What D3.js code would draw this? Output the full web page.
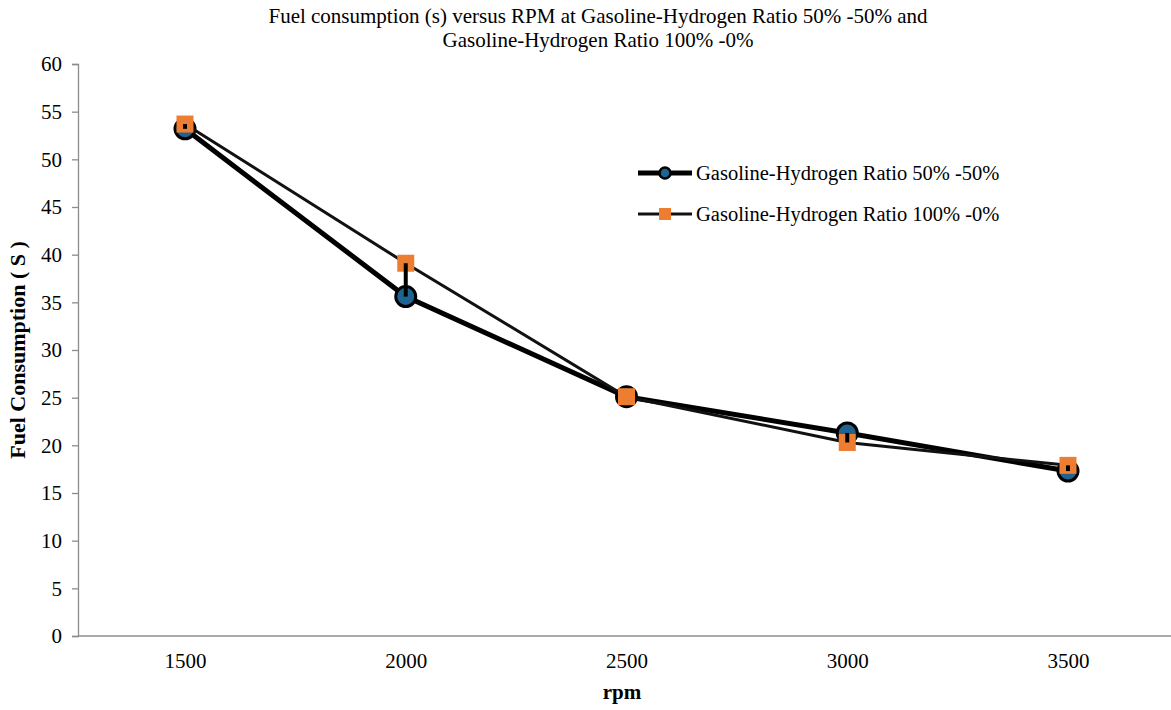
<!DOCTYPE html>
<html>
<head>
<meta charset="utf-8">
<script src="https://cdn.jsdelivr.net/npm/d3@7"></script>
<style>
  body { margin: 0; background: #fff; }
  svg text { font-family: "Liberation Serif", "DejaVu Serif", serif !important; fill: #000; }
</style>
</head>
<body>
<div id="chart"></div>
<script>
// chart data
const rpm = ["1500", "2000", "2500", "3000", "3500"];
const ratio5050 = [53.2, 35.6, 25.1, 21.3, 17.3];
const ratio1000 = [53.7, 39.1, 25.1, 20.3, 17.9];
const yTicks = [0, 5, 10, 15, 20, 25, 30, 35, 40, 45, 50, 55, 60];
const seriesNames = ["Gasoline-Hydrogen Ratio 50% -50%", "Gasoline-Hydrogen Ratio 100% -0%"];

const width = 1171, height = 710;
const margin = { top: 64, right: -8, bottom: 74, left: 78 };

const svg = d3.select("#chart")
    .append("svg")
    .attr("width", width)
    .attr("height", height);

const x = d3.scalePoint()
    .domain(rpm)
    .range([185, 1068]);

const y = d3.scaleLinear()
    .domain([0, 60])
    .range([height - margin.bottom, margin.top]);

// y axis
const yAxis = svg.append("g")
    .attr("transform", `translate(${margin.left},0)`)
    .call(d3.axisLeft(y).tickValues(yTicks).tickSize(6).tickPadding(10));
yAxis.select(".domain").attr("stroke", "#8c8c8c").attr("stroke-width", 1.3);
yAxis.selectAll(".tick line").attr("stroke", "#8c8c8c").attr("stroke-width", 1.3);
yAxis.selectAll(".tick text").style("font-size", "21px");

// x axis (no ticks)
const xAxis = svg.append("g")
    .attr("transform", `translate(0,${y(0)})`)
    .call(d3.axisBottom(x).tickSize(0).tickPadding(17));
xAxis.select(".domain")
    .attr("d", `M${margin.left},0H${width}`)
    .attr("stroke", "#8c8c8c").attr("stroke-width", 1.3);
xAxis.selectAll(".tick text").style("font-size", "21px");

// title
const title = svg.append("text")
    .attr("text-anchor", "middle")
    .attr("font-size", 21);
title.append("tspan").attr("x", 598).attr("y", 23)
    .text("Fuel consumption (s) versus RPM at Gasoline-Hydrogen Ratio 50% -50% and");
title.append("tspan").attr("x", 598).attr("y", 47)
    .text("Gasoline-Hydrogen Ratio 100% -0%");

// axis labels
svg.append("text")
    .attr("transform", `translate(25,${y(30)}) rotate(-90)`)
    .attr("text-anchor", "middle")
    .attr("font-size", 22)
    .attr("font-weight", "bold")
    .text("Fuel Consumption ( S )");

svg.append("text")
    .attr("x", 622)
    .attr("y", 699)
    .attr("text-anchor", "middle")
    .attr("font-size", 21)
    .attr("font-weight", "bold")
    .text("rpm");

const line = d3.line()
    .x((d, i) => x(rpm[i]))
    .y(d => y(d));

// series 1: thick line + blue circles
svg.append("path")
    .datum(ratio5050)
    .attr("d", line)
    .attr("fill", "none")
    .attr("stroke", "#000")
    .attr("stroke-width", 5);

svg.selectAll(".c1")
    .data(ratio5050)
    .join("circle")
    .attr("class", "c1")
    .attr("cx", (d, i) => x(rpm[i]))
    .attr("cy", d => y(d))
    .attr("r", 10)
    .attr("fill", "#1f6391")
    .attr("stroke", "#000")
    .attr("stroke-width", 3);

// series 2: thinner line + orange squares
svg.append("path")
    .datum(ratio1000)
    .attr("d", line)
    .attr("fill", "none")
    .attr("stroke", "#111")
    .attr("stroke-width", 3);

const sq = 17;
svg.selectAll(".s2")
    .data(ratio1000)
    .join("rect")
    .attr("class", "s2")
    .attr("x", (d, i) => x(rpm[i]) - sq / 2)
    .attr("y", d => y(d) - sq / 2)
    .attr("width", sq)
    .attr("height", sq)
    .attr("fill", "#ed7d31");

// high-low lines between the two series
svg.selectAll(".hl")
    .data(rpm)
    .join("line")
    .attr("class", "hl")
    .attr("x1", d => x(d))
    .attr("x2", d => x(d))
    .attr("y1", (d, i) => y(ratio5050[i]))
    .attr("y2", (d, i) => y(ratio1000[i]))
    .attr("stroke", "#000")
    .attr("stroke-width", 4);

// legend
const legend = svg.append("g");
const legY = [173, 214];
legend.append("line")
    .attr("x1", 638).attr("x2", 692)
    .attr("y1", legY[0]).attr("y2", legY[0])
    .attr("stroke", "#000").attr("stroke-width", 5);
legend.append("circle")
    .attr("cx", 665).attr("cy", legY[0]).attr("r", 5.5)
    .attr("fill", "#1f6391").attr("stroke", "#000").attr("stroke-width", 2.5);
legend.append("line")
    .attr("x1", 638).attr("x2", 692)
    .attr("y1", legY[1]).attr("y2", legY[1])
    .attr("stroke", "#111").attr("stroke-width", 3);
legend.append("rect")
    .attr("x", 659).attr("y", legY[1] - 6).attr("width", 12).attr("height", 12)
    .attr("fill", "#ed7d31");
legend.selectAll(".lt")
    .data(seriesNames)
    .join("text")
    .attr("class", "lt")
    .attr("x", 696)
    .attr("y", (d, i) => legY[i])
    .attr("dy", "0.35em")
    .attr("font-size", 20.5)
    .text(d => d);
</script>
</body>
</html>
